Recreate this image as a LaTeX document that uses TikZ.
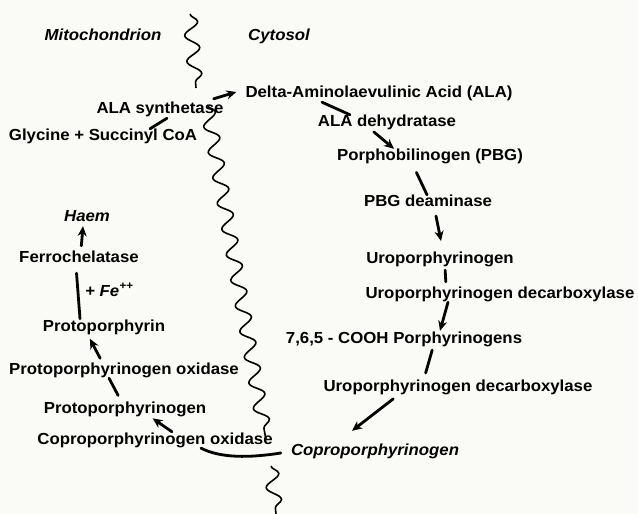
\documentclass[tikz,border=0pt]{standalone}
\usepackage{fontspec}
\setmainfont{Liberation Sans}[FakeStretch=1.05]
\usetikzlibrary{arrows.meta, decorations.pathmorphing}
\definecolor{paper}{RGB}{250,250,246}
\newcommand{\pathfont}{\fontsize{16bp}{19bp}\selectfont\bfseries}

\begin{document}
\begin{tikzpicture}[x=1bp, y=-1bp,
    every node/.style={font=\pathfont, text height=11bp, text depth=3bp, inner sep=1bp},
    stroke/.style={line width=2.8bp, line cap=round},
    react/.style={stroke, -{Stealth[length=10bp, width=9bp]}},
    membrane/.style={line width=1.6bp, decorate,
      decoration={snake, segment length=26bp, amplitude=7bp}}]
  \fill[paper] (0,0) rectangle (638,514);
  \useasboundingbox (0,0) rectangle (638,514);

  % 1. membrane between the two compartments
  \draw[membrane] (190,14) -- (196,88);
  \draw[membrane] (207,105) -- (266,440);
  \draw[membrane] (271,466) -- (276,514);

  % 2. compartments and metabolites
  \node (mito) at (103,37) {\itshape Mitochondrion};
  \node (cyto) at (279,37) {\itshape Cytosol};
  \node (ala) at (379,94) {Delta-Aminolaevulinic Acid (ALA)};
  \node (syn) at (160,110) {ALA synthetase};
  \node (gly) at (103,137) {Glycine + Succinyl CoA};
  \node (aladh) at (387,123) {ALA dehydratase};
  \node (pbg) at (430,157) {Porphobilinogen (PBG)};
  \node (deam) at (428,203) {PBG deaminase};
  \node (uro) at (440,259) {Uroporphyrinogen};
  \node (urodc) at (500,294) {Uroporphyrinogen decarboxylase};
  \node (cooh) at (404,339) {7,6,5 - COOH Porphyrinogens};
  \node (urodcb) at (458,387) {Uroporphyrinogen decarboxylase};
  \node (copro) at (375,451) {\itshape Coproporphyrinogen};
  \node (coprox) at (155,440) {Coproporphyrinogen oxidase};
  \node (protogen) at (125,409) {Protoporphyrinogen};
  \node (protox) at (124,370) {Protoporphyrinogen oxidase};
  \node (protop) at (104,327) {Protoporphyrin};
  \node (ferro) at (79,258) {Ferrochelatase};
  \node (haem) at (87,218) {\itshape Haem};
  \node[anchor=west] (fe) at (84,292) {\itshape + Fe\textsuperscript{++}};

  % 3. steps up to coproporphyrinogen
  \draw[stroke] ([xshift=47bp]gly.north) -- ([xshift=7bp]syn.south);
  \draw[react] ([xshift=-11bp,yshift=3bp]syn.north east) -- ([xshift=-8bp,yshift=2bp]ala.west);
  \draw[stroke] ([xshift=-57bp]ala.south) -- ([xshift=-37bp]aladh.north);
  \draw[react, shorten <=1bp] ([xshift=-14bp]aladh.south) -- ([xshift=-36bp]pbg.north);
  \draw[stroke, shorten <=8bp] ([xshift=-17bp]pbg.south) -- ([xshift=-1bp]deam.north);
  \draw[react, shorten <=5bp, shorten >=10bp] ([xshift=7bp]deam.south) -- ([xshift=3bp]uro.north);
  \draw[stroke, shorten <=3bp, shorten >=4bp] ([xshift=5bp]uro.south) -- ([xshift=-54bp]urodc.north);
  \draw[react] ([xshift=-52bp]urodc.south) -- ([xshift=36bp]cooh.north);
  \draw[stroke, shorten <=3bp, shorten >=6bp] ([xshift=29bp]cooh.south) -- ([xshift=-34bp]urodcb.north);
  \draw[react, shorten <=6bp] ([xshift=-60bp]urodcb.south) -- ([xshift=-23bp,yshift=12bp]copro.north);

  % 4. back into the mitochondrion up to haem
  \draw[stroke] ([xshift=-9bp,yshift=-2bp]copro.west) .. controls +(-32,5) and +(20,10) .. ([xshift=46bp]coprox.south);
  \draw[react, shorten >=2bp] ([xshift=17bp]coprox.north) -- ([xshift=26bp]protogen.south);
  \draw[stroke, shorten <=6bp] ([xshift=-4bp]protogen.north) -- ([xshift=-15bp]protox.south);
  \draw[react, shorten <=4bp, shorten >=4bp] ([xshift=-22bp]protox.north) -- ([xshift=-16bp]protop.south);
  \draw[stroke, shorten >=7bp] ([xshift=-24bp]protop.north) -- ([xshift=-3bp]ferro.south);
  \draw[react, shorten <=4bp] ([xshift=2bp]ferro.north) -- ([xshift=-4bp]haem.south);
\end{tikzpicture}
\end{document}
